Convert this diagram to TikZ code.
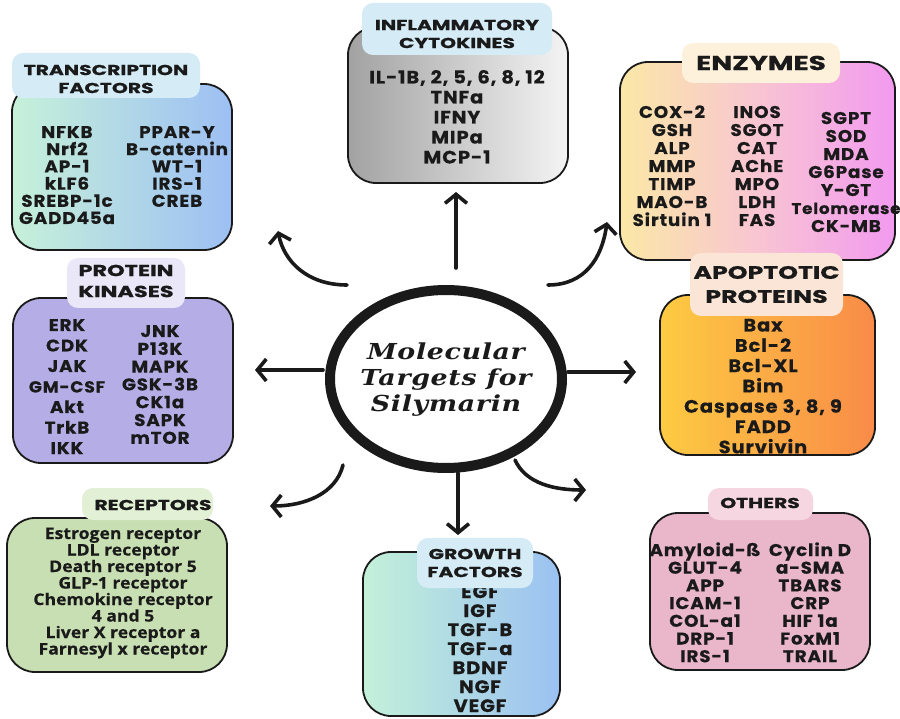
\documentclass[tikz,border=0pt]{standalone}
\usepackage{fontspec}
\usetikzlibrary{shapes.geometric,arrows.meta}
\newfontfamily\itf{Poppins}[FakeStretch=1.08,LetterSpace=5,FakeBold=0.4]
\newfontfamily\ttlf{Poppins}[FakeStretch=1.4,FakeBold=0.8]
\newfontfamily\rcf{Open Sans}[FakeStretch=1.1,FakeBold=0.4]
\newfontfamily\cef{DejaVu Serif}[FakeStretch=1.22,LetterSpace=3]
\definecolor{tfL}{HTML}{C6F1D9}\definecolor{tfR}{HTML}{9DBFF4}
\definecolor{tabBlue}{HTML}{D5ECF7}
\definecolor{cyL}{HTML}{A2A2A2}\definecolor{cyR}{HTML}{F4F4F4}
\definecolor{enL}{HTML}{FBE8A6}\definecolor{enM}{HTML}{F8C5D2}\definecolor{enR}{HTML}{F29AF0}
\definecolor{enTab}{HTML}{FDF1DC}
\definecolor{pkF}{HTML}{B5AEE6}\definecolor{pkTab}{HTML}{E9E7F8}
\definecolor{apL}{HTML}{FDCB42}\definecolor{apR}{HTML}{F98B48}\definecolor{apTab}{HTML}{FBE5D6}
\definecolor{rcF}{HTML}{C7DFB2}\definecolor{rcTab}{HTML}{E2F0D5}
\definecolor{gfL}{HTML}{C3F1D8}\definecolor{gfR}{HTML}{9BC1F2}
\definecolor{otF}{HTML}{EAB6CA}\definecolor{otTab}{HTML}{F6D6E1}
\definecolor{ink}{HTML}{1A1A1A}
\newcommand\fI{\itf\bfseries\fontsize{17}{18}\selectfont}
\newcommand\fIb{\itf\bfseries\fontsize{18}{20}\selectfont}
\newcommand\fR{\rcf\bfseries\fontsize{16}{17}\selectfont}
\newcommand\fT{\ttlf\bfseries\fontsize{14.5}{18}\selectfont}
\newcommand\fTm{\ttlf\bfseries\fontsize{16}{21}\selectfont}
\newcommand\fTb{\ttlf\bfseries\fontsize{18}{24}\selectfont}
\newcommand\fTe{\ttlf\bfseries\fontsize{20}{24}\selectfont}
\newcommand\fC{\cef\bfseries\itshape\fontsize{22}{25}\selectfont}
% name, x, first baseline, line step, font, list
\newcommand\itemcol[6]{%
  \foreach \t [count=\i] in {#6}{%
    \node[anchor=base,inner sep=0pt,text=ink,font=#5] (#1-\i) at (#2,{#3+(\i-1)*#4}) {\t};}}
\tikzset{
  box/.style={draw=ink,line width=1.8pt,rounded corners=28pt,inner sep=0pt},
  tab/.style={rounded corners=11pt,inner sep=0pt},
  ttl/.style={align=center,text=ink,inner sep=0pt},
  conn/.style={draw=ink,line width=3.6pt,line cap=round,line join=round,
    -{Straight Barb[length=9pt,width=22pt,line width=3.6pt]}}
}
\begin{document}
\begin{tikzpicture}[x=1pt,y=-1pt]
\useasboundingbox[fill=white] (0,0) rectangle (900,719);

% ---- Transcription factors
\node[box,left color=tfL,right color=tfR,minimum width=220pt,minimum height=166pt] (tfb) at (122,167) {};
\itemcol{tfa}{67}{138}{17.2}{\fI}{NFKB,Nrf2,AP-1,kLF6,SREBP-1c,GADD45a}
\itemcol{tfc}{177}{138}{17.2}{\fI}{PPAR-Y,B-catenin,WT-1,IRS-1,CREB}
\node[tab,fill=tabBlue,minimum width=188pt,minimum height=45pt] (tft) at (106,75.5) {};
\node[ttl,font=\fT] (tftl) at (106,79) {TRANSCRIPTION\\FACTORS};

% ---- Inflammatory cytokines
\node[box,left color=cyL,right color=cyR,minimum width=220pt,minimum height=156pt] (cyb) at (458,105) {};
\itemcol{cy}{457}{83.5}{20}{\fIb}{{IL-1B, 2, 5, 6, 8, 12},TNFa,IFNY,MIPa,MCP-1}
\node[tab,fill=tabBlue,minimum width=190pt,minimum height=52pt] (cyt) at (457,29) {};
\node[ttl,font=\fT] (cytl) at (457,34) {INFLAMMATORY\\CYTOKINES};

% ---- Enzymes
\node[box,left color=enL,right color=enR,middle color=enM,minimum width=275pt,minimum height=198pt] (enb) at (757.5,161) {};
\itemcol{ena}{672}{118}{18}{\fI}{COX-2,GSH,ALP,MMP,TIMP,MAO-B,Sirtuin 1}
\itemcol{enc}{757}{118}{18}{\fI}{INOS,SGOT,CAT,AChE,MPO,LDH,FAS}
\itemcol{ene}{846}{124}{18}{\fI}{SGPT,SOD,MDA,G6Pase,Y-GT,{{\fontsize{15.5}{18}\selectfont Telomerase}},CK-MB}
\node[tab,fill=enTab,minimum width=158pt,minimum height=40pt] (ent) at (761,63) {};
\node[ttl,font=\fTe] (entl) at (761,63) {ENZYMES};

% ---- Protein kinases
\node[box,fill=pkF,minimum width=220pt,minimum height=165pt] (pkb) at (123,380.5) {};
\itemcol{pka}{67}{331}{20.5}{\fI}{ERK,CDK,JAK,{{\fontsize{16}{16}\selectfont GM-CSF}},Akt,TrkB,IKK}
\itemcol{pkc}{160}{337}{17.8}{\fI}{JNK,P13K,MAPK,GSK-3B,CK1a,SAPK,mTOR}
\node[tab,fill=pkTab,minimum width=118pt,minimum height=50pt] (pkt) at (126,283) {};
\node[ttl,font=\fTm] (pktl) at (126,281) {PROTEIN\\KINASES};

% ---- Apoptotic proteins
\node[box,left color=apL,right color=apR,minimum width=215pt,minimum height=160pt] (apb) at (767.5,375) {};
\itemcol{ap}{763}{331.5}{20.3}{\fIb}{Bax,Bcl-2,Bcl-XL,Bim,{Caspase 3, 8, 9},FADD,Survivin}
\node[tab,fill=apTab,minimum width=153pt,minimum height=63pt] (apt) at (766.5,284.5) {};
\node[ttl,font=\fTb] (aptl) at (766.5,284.5) {APOPTOTIC\\PROTEINS};

% ---- Receptors
\node[box,fill=rcF,minimum width=220pt,minimum height=154pt] (rcb) at (117,595) {};
\itemcol{rc}{123}{539}{16.5}{\fR}{Estrogen receptor,LDL receptor,Death receptor 5,GLP-1 receptor,Chemokine receptor,4 and 5,Liver X receptor a,Farnesyl x receptor}
\node[tab,fill=rcTab,minimum width=131pt,minimum height=32pt] (rct) at (147.5,504) {};
\node[ttl,font=\fT] (rctl) at (153,505) {RECEPTORS};

% ---- Growth factors
\node[box,left color=gfL,right color=gfR,minimum width=197pt,minimum height=164pt] (gfb) at (461.5,634) {};
\itemcol{gf}{480}{598}{19}{\fIb}{EGF,IGF,TGF-B,TGF-a,BDNF,NGF,VEGF}
\node[tab,fill=tabBlue,minimum width=116pt,minimum height=50pt] (gft) at (475,563) {};
\node[ttl,font=\fT] (gftl) at (475,563) {GROWTH\\FACTORS};

% ---- Others
\node[box,fill=otF,minimum width=220pt,minimum height=157pt] (otb) at (760,591.5) {};
\itemcol{ota}{705}{556}{17.7}{\fI}{Amyloid-ß,GLUT-4,APP,ICAM-1,COL-a1,DRP-1,IRS-1}
\itemcol{otc}{810}{556}{17.7}{\fI}{Cyclin D,a-SMA,TBARS,CRP,HIF 1a,FoxM1,TRAIL}
\node[tab,fill=otTab,minimum width=105pt,minimum height=32pt] (ott) at (760.5,504) {};
\node[ttl,font=\fT] (ottl) at (760,503) {OTHERS};

% ---- Centre
\node[draw=ink,line width=10pt,ellipse,minimum width=232pt,minimum height=178pt,inner sep=0pt] (c) at (446,379) {};
\itemcol{ct}{446}{360}{25.5}{\fC}{Molecular,Targets for,Silymarin}

% ---- Arrows
\coordinate (u1) at (456,268); \coordinate (u2) at (456,192);
\coordinate (ul1) at (347,285); \coordinate (ul2) at (278,231);
\coordinate (ur1) at (548,285); \coordinate (ur2) at (607,222);
\coordinate (l1) at (323,370); \coordinate (l2) at (255,370);
\coordinate (r1) at (568,372); \coordinate (r2) at (636,372);
\coordinate (ll1) at (343,465); \coordinate (ll2) at (270,506);
\coordinate (d1) at (458,473); \coordinate (d2) at (458,535);
\coordinate (lr1) at (515,460); \coordinate (lr2) at (586,490);
\draw[conn] (u1) -- (u2);
\draw[conn] (ul1) .. controls (308,285) and (284,262) .. (ul2);
\draw[conn] (ur1) .. controls (585,285) and (602,258) .. (ur2);
\draw[conn] (l1) -- (l2);
\draw[conn] (r1) -- (r2);
\draw[conn] (ll1) .. controls (336,494) and (304,506) .. (ll2);
\draw[conn] (d1) -- (d2);
\draw[conn] (lr1) .. controls (526,484) and (555,490) .. (lr2);
\end{tikzpicture}
\end{document}
